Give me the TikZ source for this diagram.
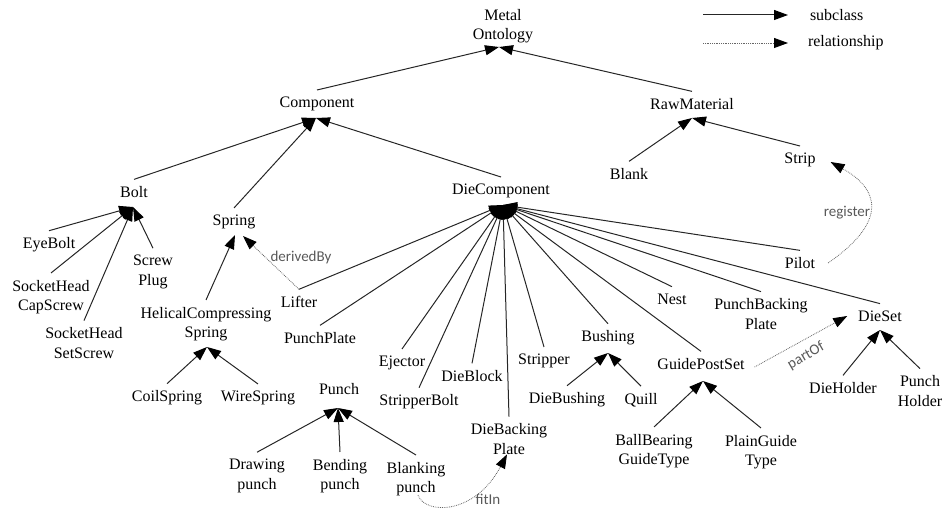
\documentclass[tikz,border=0pt]{standalone}
\usepackage{fontspec}
\setmainfont{Liberation Serif}
\newfontfamily\clsfont{Liberation Serif}
\newfontfamily\relfont{Carlito}
\usetikzlibrary{arrows.meta,calc}
\begin{document}
\begin{tikzpicture}[x=1pt,y=-1pt,
  cls/.style={inner sep=0pt, outer xsep=0pt, outer ysep=7pt, align=center,
              font=\clsfont\fontsize{16}{19.5}\selectfont, text=black},
  subcl/.style={draw=black!85, line width=1pt,
                -{Triangle[length=14pt,width=10pt,color=black]}},
  rel/.style={draw=black!60, line width=0.8pt, densely dotted,
              -{Triangle[length=14pt,width=10pt,color=black]}},
  rellabel/.style={font=\relfont\fontsize{15}{18}\selectfont, text=black!65, inner sep=0pt},
]
\useasboundingbox (0,0) rectangle (943,510);

% ---- legend
\coordinate (lgsa) at (703,15);  \coordinate (lgsb) at (788,15);
\coordinate (lgra) at (703,43);  \coordinate (lgrb) at (788,43);
\node[cls, anchor=west] (lgsub) at (810,15) {subclass};
\node[cls, anchor=west] (lgrel) at (808,43) {relationship};
\draw[subcl] (lgsa) -- (lgsb);
\draw[rel] (lgra) -- (lgrb);

% ---- classes
\node[cls] (onto)     at (503,26)  {Metal\\Ontology};
\node[cls] (comp)     at (317,104) {Component};
\node[cls] (raw)      at (692,104) {RawMaterial};
\node[cls] (blank)    at (629,174) {Blank};
\node[cls] (strip)    at (800,160) {Strip};
\node[cls] (bolt)     at (134,192) {Bolt};
\node[cls] (spring)   at (234,222) {Spring};
\node[cls] (diecomp)  at (501,191) {DieComponent};
\node[cls] (eyebolt)  at (49,245)  {EyeBolt};
\node[cls] (shcap)    at (51,297)  {SocketHead\\CapScrew};
\node[cls] (shset)    at (84,343)  {SocketHead\\SetScrew};
\node[cls] (plug)     at (153,272) {Screw\\Plug};
\node[cls] (helical)  at (206,324) {HelicalCompressing\\Spring};
\node[cls] (coil)     at (167,398) {CoilSpring};
\node[cls] (wire)     at (258,398) {WireSpring};
\node[cls] (lifter)   at (299,302) {Lifter};
\node[cls] (pplate)   at (320,338) {PunchPlate};
\node[cls] (ejector)  at (402,363) {Ejector};
\node[cls] (sbolt)    at (419,402) {StripperBolt};
\node[cls] (dblock)   at (472,376) {DieBlock};
\node[cls] (dbplate)  at (509,439) {DieBacking\\Plate};
\node[cls] (stripper) at (544,361) {Stripper};
\node[cls] (bushing)  at (608,338) {Bushing};
\node[cls] (dbush)    at (567,400) {DieBushing};
\node[cls] (quill)    at (641,400) {Quill};
\node[cls] (nest)     at (672,299) {Nest};
\node[cls] (pbplate)  at (761,314) {PunchBacking\\Plate};
\node[cls] (gps)      at (701,364) {GuidePostSet};
\node[cls] (ballb)    at (654,451) {BallBearing\\GuideType};
\node[cls] (plain)    at (761,452) {PlainGuide\\Type};
\node[cls] (pilot)    at (800,263) {Pilot};
\node[cls] (dieset)   at (880,316) {DieSet};
\node[cls] (dholder)  at (843,388) {DieHolder};
\node[cls] (pholder)  at (920,391) {Punch\\Holder};
\node[cls] (punch)    at (339,389) {Punch};
\node[cls] (drawing)  at (257,476) {Drawing\\punch};
\node[cls] (bending)  at (340,476) {Bending\\punch};
\node[cls] (blanking) at (416,479) {Blanking\\punch};

% ---- points where the subclass arrows of each parent meet
\coordinate (onto-tip)    at (499,47);
\coordinate (comp-tip)    at (316,118);
\coordinate (raw-tip)     at (692,118);
\coordinate (bolt-tip)    at (133,207);
\coordinate (spring-tip)  at (235,235);
\coordinate (dc-tip)      at (503,205);
\coordinate (helical-tip) at (207,347);
\coordinate (punch-tip)   at (338,408);
\coordinate (bushing-tip) at (608,353);
\coordinate (gps-tip)     at (703,381);
\coordinate (dieset-tip)  at (880,330);

% ---- subclass links
\foreach \c in {comp,raw} \draw[subcl] (\c.north) -- (onto-tip);
\foreach \c in {bolt,spring,diecomp} \draw[subcl] (\c.north) -- (comp-tip);
\foreach \c in {blank,strip} \draw[subcl] (\c.north) -- (raw-tip);
\foreach \c in {eyebolt,shcap,shset,plug} \draw[subcl] (\c.north) -- (bolt-tip);
\draw[subcl] (helical.north) -- (spring-tip);
\foreach \c in {coil,wire} \draw[subcl] (\c.north) -- (helical-tip);
\foreach \c in {lifter,pplate,ejector,sbolt,dblock,dbplate,stripper,bushing,
                nest,pbplate,gps,pilot,dieset}
  \draw[subcl] (\c.north) -- (dc-tip);
\foreach \c in {dbush,quill} \draw[subcl] (\c.north) -- (bushing-tip);
\foreach \c in {ballb,plain} \draw[subcl] (\c.north) -- (gps-tip);
\foreach \c in {dholder,pholder} \draw[subcl] (\c.north) -- (dieset-tip);
\foreach \c in {drawing,bending,blanking} \draw[subcl] (\c.north) -- (punch-tip);

% ---- relationships
\draw[rel] (lifter.north) -- ([xshift=8pt,yshift=-1pt]spring-tip);
\node[rellabel] (lbder) at (301,258) {derivedBy};

\draw[rel] ([xshift=13pt]pilot.east) .. controls +(62,-43) and +(47,26) .. ([xshift=15pt,yshift=-2pt]strip.east);
\node[rellabel] (lbreg) at (847,213) {register};

\draw[rel] ([xshift=10pt,yshift=-3pt]gps.east) -- ([xshift=-11pt]dieset.west);
\node[rellabel, rotate=30] (lbpart) at (806,356) {partOf};

\draw[rel] ([xshift=2pt,yshift=8pt]blanking.south) .. controls (425,515) and (475,515) .. ([xshift=-2pt,yshift=7pt]dbplate.south);
\node[rellabel] (lbfit) at (488,499) {fitIn};

\end{tikzpicture}
\end{document}
